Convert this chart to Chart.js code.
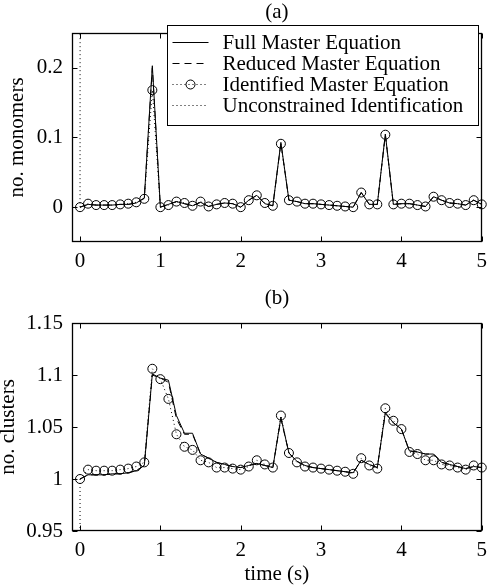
<!DOCTYPE html>
<html>
<head>
<meta charset="utf-8">
<script src="https://cdn.jsdelivr.net/npm/chart.js@4.4.0/dist/chart.umd.min.js"></script>
<style>
  html, body { margin: 0; padding: 0; background: #fff; }
  #wrap { position: relative; width: 494px; height: 588px; }
  canvas { position: absolute; left: 0; }
  #chartA { top: 0; }
  #chartB { top: 280px; }
</style>
</head>
<body>
<div id="wrap">
  <canvas id="chartA" width="494" height="280"></canvas>
  <canvas id="chartB" width="494" height="308"></canvas>
</div>
<script>
// time samples (s)
const time = [0, 0.1, 0.2, 0.3, 0.4, 0.5, 0.6, 0.7, 0.8, 0.9,
              1, 1.1, 1.2, 1.3, 1.4, 1.5, 1.6, 1.7, 1.8, 1.9,
              2, 2.1, 2.2, 2.3, 2.4, 2.5, 2.6, 2.7, 2.8, 2.9,
              3, 3.1, 3.2, 3.3, 3.4, 3.5, 3.6, 3.7, 3.8, 3.9,
              4, 4.1, 4.2, 4.3, 4.4, 4.5, 4.6, 4.7, 4.8, 4.9, 5];

// (a) no. monomers
const monoFull = [0.000, 0.004, 0.003, 0.003, 0.003, 0.004, 0.004, 0.006, 0.013, 0.203,
                  0.000, 0.004, 0.008, 0.005, 0.002, 0.007, 0.001, 0.004, 0.006, 0.005,
                  0.000, 0.010, 0.017, 0.005, 0.002, 0.093, 0.010, 0.008, 0.005, 0.005,
                  0.004, 0.003, 0.002, 0.001, 0.000, 0.021, 0.004, 0.004, 0.105, 0.004,
                  0.005, 0.005, 0.003, 0.001, 0.015, 0.010, 0.006, 0.005, 0.003, 0.010, 0.004];
const monoReduced = [0.000, 0.004, 0.003, 0.003, 0.003, 0.004, 0.004, 0.006, 0.013, 0.200,
                     0.000, 0.004, 0.008, 0.005, 0.002, 0.007, 0.001, 0.004, 0.006, 0.005,
                     0.000, 0.010, 0.017, 0.005, 0.002, 0.092, 0.010, 0.008, 0.005, 0.005,
                     0.004, 0.003, 0.002, 0.001, 0.000, 0.021, 0.004, 0.004, 0.104, 0.004,
                     0.005, 0.005, 0.003, 0.001, 0.015, 0.010, 0.006, 0.005, 0.003, 0.010, 0.004];
const monoIdent = [0.000, 0.005, 0.003, 0.003, 0.003, 0.004, 0.005, 0.007, 0.012, 0.168,
                   0.000, 0.003, 0.008, 0.006, 0.002, 0.008, 0.001, 0.004, 0.006, 0.005,
                   0.000, 0.010, 0.017, 0.006, 0.002, 0.091, 0.010, 0.008, 0.005, 0.005,
                   0.004, 0.003, 0.002, 0.001, 0.000, 0.021, 0.004, 0.004, 0.104, 0.004,
                   0.005, 0.005, 0.003, 0.001, 0.015, 0.010, 0.006, 0.005, 0.003, 0.010, 0.004];

// (b) no. clusters
const clustFull = [1.000, 1.004, 1.004, 1.004, 1.005, 1.005, 1.006, 1.008, 1.013, 1.101,
                   1.097, 1.095, 1.061, 1.044, 1.044, 1.024, 1.020, 1.016, 1.014, 1.012,
                   1.011, 1.013, 1.015, 1.013, 1.011, 1.059, 1.025, 1.017, 1.013, 1.011,
                   1.010, 1.009, 1.008, 1.007, 1.006, 1.018, 1.014, 1.011, 1.064, 1.054,
                   1.048, 1.027, 1.026, 1.024, 1.024, 1.016, 1.014, 1.012, 1.010, 1.012, 1.011];
const clustReduced = [1.000, 1.004, 1.004, 1.004, 1.005, 1.005, 1.006, 1.008, 1.013, 1.100,
                      1.097, 1.093, 1.058, 1.043, 1.043, 1.024, 1.020, 1.016, 1.014, 1.012,
                      1.011, 1.013, 1.015, 1.013, 1.011, 1.058, 1.025, 1.017, 1.013, 1.011,
                      1.010, 1.009, 1.008, 1.007, 1.006, 1.018, 1.014, 1.011, 1.063, 1.054,
                      1.048, 1.027, 1.026, 1.024, 1.024, 1.016, 1.014, 1.012, 1.010, 1.012, 1.011];
const clustIdent = [1.000, 1.009, 1.008, 1.008, 1.008, 1.009, 1.010, 1.012, 1.016, 1.106,
                    1.096, 1.077, 1.043, 1.031, 1.028, 1.018, 1.016, 1.011, 1.011, 1.010,
                    1.009, 1.012, 1.018, 1.014, 1.011, 1.061, 1.025, 1.016, 1.012, 1.011,
                    1.010, 1.009, 1.008, 1.007, 1.005, 1.020, 1.013, 1.010, 1.068, 1.056,
                    1.048, 1.026, 1.024, 1.018, 1.018, 1.014, 1.013, 1.011, 1.009, 1.013, 1.011];

// unconstrained identification leaves the plot right after t = 0
const timeUncon = [0, 0.1, 0.2];
const monoUncon = [0, 35, 80];
const clustUncon = [1, -30, -75];

const seriesNames = ['Full Master Equation', 'Reduced Master Equation',
                     'Identified Master Equation', 'Unconstrained Identification'];
const xTicks = [0, 1, 2, 3, 4, 5];
const yTicksA = [0, 0.1, 0.2];
const yTicksB = [0.95, 1, 1.05, 1.1, 1.15];

const serif = "'Liberation Serif', 'Times New Roman', serif";
const font = { family: serif, size: 21 };

function pts(xs, ys) {
  return xs.map((t, i) => ({ x: t, y: ys[i] }));
}

function makeDatasets(full, reduced, ident, uncon) {
  return [
    { label: seriesNames[0], data: pts(time, full), borderColor: '#000', borderWidth: 1,
      pointRadius: 0 },
    { label: seriesNames[1], data: pts(time, reduced), borderColor: '#000', borderWidth: 1,
      borderDash: [7, 5], pointRadius: 0 },
    { label: seriesNames[2], data: pts(time, ident), borderColor: '#000', borderWidth: 1,
      borderDash: [1, 3], pointRadius: 4.5, pointBorderWidth: 1, pointBorderColor: '#000',
      pointBackgroundColor: 'rgba(0,0,0,0)', clip: false },
    { label: seriesNames[3], data: pts(timeUncon, uncon), borderColor: '#000', borderWidth: 1,
      borderDash: [1, 3], pointRadius: 0 }
  ];
}

// box round the axes with inward ticks on all four sides, like matlab
const frame = {
  id: 'frame',
  afterDatasetsDraw(chart) {
    const { ctx, chartArea: a, scales: { x, y } } = chart;
    const L = Math.round(a.left) + 0.5, R = Math.round(a.right) - 0.5;
    const T = Math.round(a.top) + 0.5, B = Math.round(a.bottom) - 0.5;
    const tl = 5;
    ctx.save();
    ctx.setLineDash([]);
    ctx.strokeStyle = '#000';
    ctx.lineWidth = 1;
    ctx.beginPath();
    x.ticks.forEach(t => {
      const px = Math.round(x.getPixelForValue(t.value)) + 0.5;
      ctx.moveTo(px, B); ctx.lineTo(px, B - tl);
      ctx.moveTo(px, T); ctx.lineTo(px, T + tl);
    });
    y.ticks.forEach(t => {
      const py = Math.round(y.getPixelForValue(t.value)) + 0.5;
      ctx.moveTo(L, py); ctx.lineTo(L + tl, py);
      ctx.moveTo(R, py); ctx.lineTo(R - tl, py);
    });
    ctx.stroke();
    ctx.lineWidth = 1.3;
    ctx.strokeRect(L, T, R - L, B - T);
    ctx.restore();
  }
};

// legend box drawn over the top right corner of panel (a)
const boxLegend = {
  id: 'boxLegend',
  afterDraw(chart, args, opts) {
    if (!opts.show) return;
    const { ctx, chartArea: a } = chart;
    const w = 311, h = 100;
    const bx = Math.round(a.right - 4 - w) + 0.5, by = Math.round(a.top - 8) + 0.5;
    ctx.save();
    ctx.fillStyle = '#fff';
    ctx.fillRect(bx, by, w, h);
    ctx.strokeStyle = '#000';
    ctx.lineWidth = 1;
    ctx.setLineDash([]);
    ctx.strokeRect(bx, by, w, h);
    ctx.font = `21px ${serif}`;
    ctx.fillStyle = '#000';
    ctx.textBaseline = 'middle';
    chart.data.datasets.forEach((ds, i) => {
      const cy = Math.round(by + 16 + i * 21.3) + 0.5;
      ctx.setLineDash(ds.borderDash || []);
      ctx.beginPath();
      ctx.moveTo(bx + 5, cy);
      ctx.lineTo(bx + 41, cy);
      ctx.stroke();
      if (ds.pointRadius > 0) {
        ctx.setLineDash([]);
        ctx.beginPath();
        ctx.arc(bx + 23, cy, ds.pointRadius, 0, Math.PI * 2);
        ctx.stroke();
      }
      ctx.fillText(ds.label, bx + 55, cy + 1);
    });
    ctx.restore();
  }
};

function makePanel(id, p) {
  return new Chart(document.getElementById(id), {
    type: 'line',
    data: { datasets: p.datasets },
    plugins: [frame, boxLegend],
    options: {
      responsive: false,
      animation: false,
      layout: { padding: { left: 0, right: 9, top: 0, bottom: 0 } },
      plugins: {
        legend: { display: false },
        tooltip: { enabled: false },
        boxLegend: { show: p.legend }
      },
      scales: {
        x: {
          type: 'linear', min: -0.1, max: 5,
          afterBuildTicks: s => { s.ticks = xTicks.map(v => ({ value: v })); },
          afterFit: s => { s.height = p.xHeight; },
          grid: { display: false, drawTicks: false },
          border: { display: false },
          ticks: { font, color: '#000', padding: 7, maxRotation: 0, autoSkip: false,
                   callback: v => String(v) },
          title: { display: !!p.xTitle, text: p.xTitle, font, color: '#000',
                   padding: { top: 0, bottom: 1 } }
        },
        top: {
          type: 'linear', position: 'top', min: -0.1, max: 5,
          afterFit: s => { s.height = p.topHeight; },
          grid: { display: false, drawTicks: false },
          border: { display: false },
          ticks: { display: false },
          title: { display: true, text: p.tag, font, color: '#000',
                   padding: { top: p.tagPad, bottom: 0 } }
        },
        y: {
          type: 'linear', min: p.yMin, max: p.yMax,
          afterBuildTicks: s => { s.ticks = p.yTicks.map(v => ({ value: v })); },
          afterFit: s => { s.width = 72; },
          grid: { display: false, drawTicks: false },
          border: { display: false },
          ticks: { font, color: '#000', padding: 9, autoSkip: false,
                   callback: v => String(+v.toFixed(2)) },
          title: { display: true, text: p.yTitle, color: '#000',
                   font: { family: serif, size: 21, lineHeight: 1 },
                   padding: { top: p.yTitlePad, bottom: 0 } }
        }
      }
    }
  });
}

makePanel('chartA', {
  datasets: makeDatasets(monoFull, monoReduced, monoIdent, monoUncon),
  yMin: -0.05, yMax: 0.25, yTicks: yTicksA, yTitle: 'no. monomers', yTitlePad: 7,
  tag: '(a)', tagPad: 0, topHeight: 33, xHeight: 38, xTitle: '', legend: true
});

makePanel('chartB', {
  datasets: makeDatasets(clustFull, clustReduced, clustIdent, clustUncon),
  yMin: 0.95, yMax: 1.15, yTicks: yTicksB, yTitle: 'no. clusters', yTitlePad: -2,
  tag: '(b)', tagPad: 6, topHeight: 43, xHeight: 57, xTitle: 'time (s)', legend: false
});
</script>
</body>
</html>
